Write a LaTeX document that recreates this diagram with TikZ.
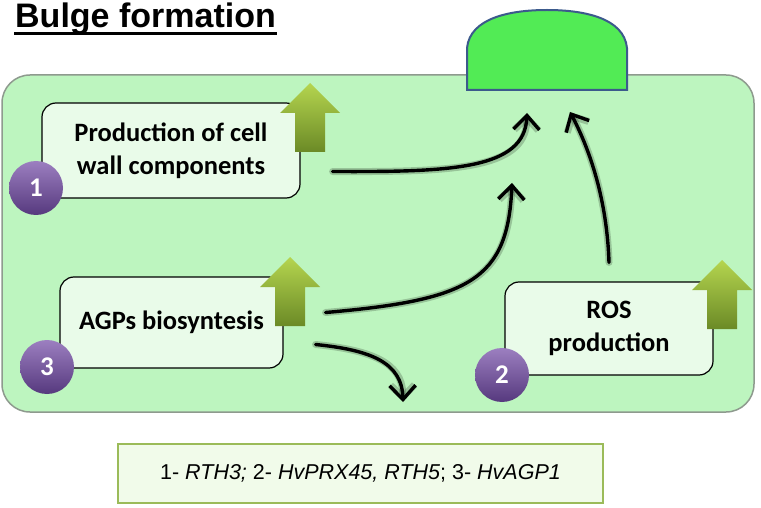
\documentclass[tikz,border=0pt]{standalone}
\usepackage{fontspec}
\setmainfont{Carlito}
\newfontfamily\arialfont{Liberation Sans}
\usetikzlibrary{arrows.meta}

\definecolor{cellgreen}{HTML}{BDF5BF}
\definecolor{cellline}{HTML}{8E9A8E}
\definecolor{boxgreen}{HTML}{E9FBE9}
\definecolor{bulgegreen}{HTML}{52EB55}
\definecolor{bulgeline}{HTML}{3C5A8C}
\definecolor{uptop}{HTML}{B5D54F}
\definecolor{upbot}{HTML}{6B8A26}
\definecolor{purptop}{HTML}{9C7FC0}
\definecolor{purpbot}{HTML}{56397E}
\definecolor{legendfill}{HTML}{F1FBEA}
\definecolor{legendline}{HTML}{9BBB59}

\tikzset{
  procbox/.style={draw=black, line width=1.2pt, rounded corners=14pt, fill=boxgreen,
    align=center, inner sep=0pt, font=\fontsize{26.5}{33}\selectfont\bfseries},
  numball/.style={circle, minimum size=54pt, inner sep=0pt, top color=purptop,
    bottom color=purpbot, text=white, font=\fontsize{27}{30}\selectfont\bfseries},
  flowarrow/.style={line width=3.4pt, line cap=round, -{Straight Barb[length=14pt,width=26pt]}},
  flowhalo/.style={line width=7pt, line cap=round, black, opacity=0.2,
    -{Straight Barb[length=12pt,width=24pt]}},
}

\begin{document}
\begin{tikzpicture}[x=1pt,y=-1pt]
  \useasboundingbox (0,0) rectangle (761,508);

  % Title
  \node[anchor=base west, inner sep=0pt, font=\arialfont\fontsize{34}{40}\selectfont\bfseries]
    (title) at (15,28) {Bulge formation};
  \draw[line width=3pt] ([shift={(-1pt,-5.5pt)}]title.base west)
    -- ([shift={(1pt,-5.5pt)}]title.base east);

  % Cell
  \draw[fill=cellgreen, draw=cellline, line width=1.5pt, rounded corners=28pt]
    (2,75) rectangle (754,412);

  % Bulge
  \draw[fill=bulgegreen, draw=bulgeline, line width=2pt]
    (467,90) -- (467,48) .. controls (470,18) and (510,10) .. (547,10)
    .. controls (584,10) and (624,18) .. (627,48) -- (627,90) -- cycle;

  % Process boxes
  \node[procbox, minimum width=258pt, minimum height=95pt] (prodbox) at (171,150.5)
    {Production of cell\\wall components};
  \node[procbox, minimum width=223pt, minimum height=91pt] (agpbox) at (171.5,322.5)
    {AGPs biosyntesis};
  \node[procbox, minimum width=208pt, minimum height=93pt] (rosbox) at (609,328.5)
    {ROS\\production};

  % Up arrows
  \foreach \x/\y in {310/83, 290/257, 722/260}
    \shade[top color=uptop, bottom color=upbot]
      (\x,\y) -- ++(30,30) -- ++(-15,0) -- ++(0,39) -- ++(-30,0)
      -- ++(0,-39) -- ++(-15,0) -- cycle;

  % Numbers
  \node[numball] (num1) at (36,188) {1};
  \node[numball] (num3) at (47,367) {3};
  \node[numball] (num2) at (502,375) {2};

  % Arrow ends
  \coordinate (tipA) at (527,113);
  \coordinate (tipB) at (570,112);
  \coordinate (tipC) at (512,183);
  \coordinate (tipD) at (403,402);

  % Curved arrows
  \foreach \s in {flowhalo, flowarrow} {
    \draw[\s] ([xshift=32pt,yshift=-21pt]prodbox.east)
      .. controls (450,172) and (525,170) .. (tipA);
    \draw[\s] ([xshift=42pt,yshift=10pt]agpbox.east)
      .. controls (470,300) and (508,280) .. (tipC);
    \draw[\s] ([xshift=32pt,yshift=-22pt]agpbox.east)
      .. controls (370,350) and (402,362) .. (tipD);
    \draw[\s] ([yshift=19pt]rosbox.north)
      .. controls (607,200) and (590,150) .. (tipB);
  }

  % Legend
  \node[draw=legendline, fill=legendfill, line width=2.5pt, minimum width=485pt,
    minimum height=59pt, font=\arialfont\fontsize{21.5}{26}\selectfont] (legend) at (360.5,473.5)
    {1- \textit{RTH3;} 2- \textit{HvPRX45, RTH5}; 3- \textit{HvAGP1}};
\end{tikzpicture}
\end{document}
